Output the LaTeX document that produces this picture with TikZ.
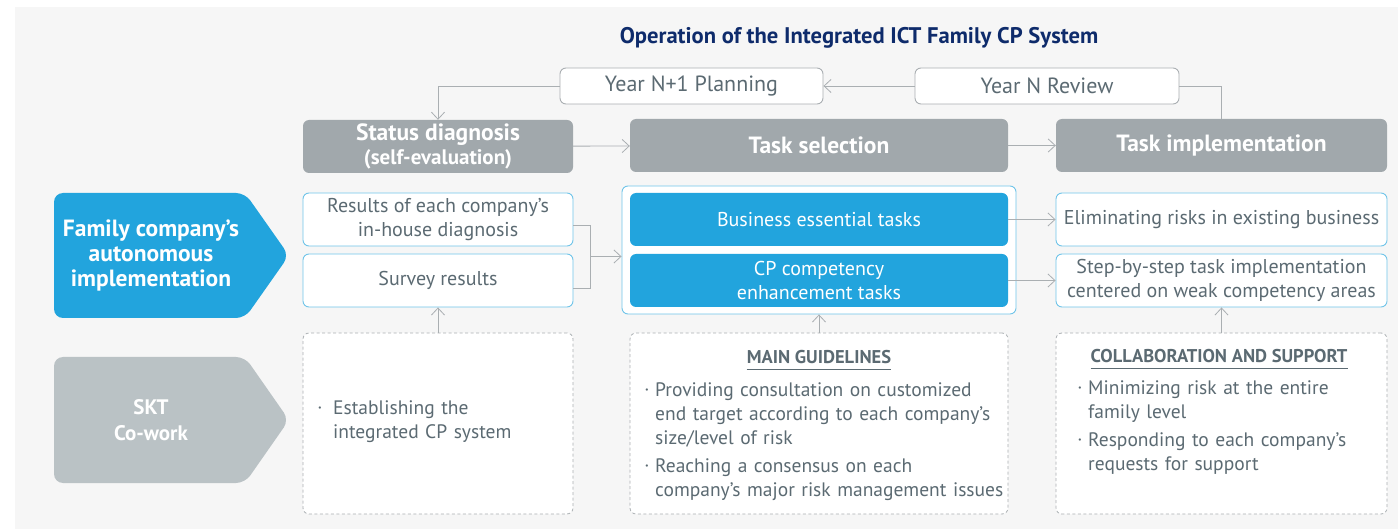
\documentclass[tikz,border=0pt]{standalone}
\usepackage{fontspec}
\setmainfont{PT Sans}
\usetikzlibrary{arrows.meta, positioning, calc}
\definecolor{Fondo}{RGB}{246, 246, 246}
\definecolor{Sky}{RGB}{34, 164, 221}
\definecolor{Steel}{RGB}{161, 168, 172}
\definecolor{Cloud}{RGB}{186, 194, 197}
\definecolor{Slate}{RGB}{91, 106, 114}
\definecolor{Navy}{RGB}{14, 43, 107}
\definecolor{Ash}{RGB}{170, 175, 178}
\newcommand{\dotmark}[1][10pt]{\makebox[#1][l]{\raisebox{0.35ex}{\fontsize{8}{8}\selectfont\textbullet}}}
\newcommand{\hangpad}[1][10pt]{\hspace*{#1}}

\begin{document}
\begin{tikzpicture}[x=1pt, y=-1pt,
        box/.style={
            rectangle,
            rounded corners=6pt,
            draw=Sky!65,
            line width=0.9pt,
            fill=white,
            minimum height=53pt,
            inner sep=0pt,
            align=center,
            text=Slate,
            font=\fontsize{20}{24}\selectfont
        },
        task/.style={box, draw=none, fill=Sky, text=white},
        head/.style={
            rectangle,
            rounded corners=6pt,
            fill=Steel,
            minimum height=53pt,
            inner sep=0pt,
            align=center,
            text=white,
            font=\bfseries\fontsize{23.5}{24}\selectfont
        },
        year/.style={box, draw=Ash, minimum height=36pt, font=\fontsize{22}{24}\selectfont},
        note/.style={
            rectangle,
            rounded corners=6pt,
            draw=Ash,
            dash pattern=on 3pt off 2.5pt,
            line width=0.8pt,
            fill=white,
            minimum height=181pt,
            inner sep=0pt
        },
        bullets/.style={anchor=north west, inner sep=0pt, align=left, text=Slate, font=\fontsize{19.5}{24}\selectfont},
        caps/.style={inner xsep=0pt, inner ysep=6pt, text=Slate, font=\bfseries\fontsize{18.5}{20}\selectfont},
        arrow/.style={-{Straight Barb[length=7pt, width=13pt]}, draw=Ash, line width=0.8pt},
        link/.style={draw=Ash, line width=0.8pt}
    ]
        \useasboundingbox (0,0) rectangle (1398,529);
        \fill[Fondo] (15,7) rectangle (1398,529);

        % Row labels
        \fill[Sky, rounded corners=9pt] (54,255) -- (54,193) -- (245,193) -- (289,255.5) -- (245,318) -- (54,318) -- cycle;
        \fill[Cloud, rounded corners=9pt] (54,420) -- (54,357) -- (245,357) -- (289,420) -- (245,483) -- (54,483) -- cycle;
        \node[align=center, text=white, font=\bfseries\fontsize{23.5}{25}\selectfont] (family) at (151,255) {Family company's\\autonomous\\implementation};
        \node[align=center, text=white, font=\bfseries\fontsize{21}{26}\selectfont] (skt) at (151,420) {SKT\\Co-work};

        % Nodes
        \node[font=\bfseries\fontsize{22.6}{24}\selectfont, text=Navy] (title) at (859,38) {Operation of the Integrated ICT Family CP System};
        \node[year, minimum width=263pt] (plan) at (691.5,86) {Year N+1 Planning};
        \node[year, minimum width=264pt] (review) at (1047,86) {Year N Review};

        \node[head, minimum width=270pt] (diag) at (438,146.5) {Status diagnosis\\{\fontsize{21}{22}\selectfont(self-evaluation)}};
        \node[head, minimum width=378pt] (sel) at (819,145.5) {Task selection};
        \node[head, minimum width=331pt] (impl) at (1221.5,145.5) {Task implementation};

        \node[box, minimum width=270pt] (res) at (438,219.5) {Results of each company's\\in-house diagnosis};
        \node[box, minimum width=270pt] (surv) at (438,280.5) {Survey results};
        \node[box, minimum width=394pt, minimum height=128pt] (wrap) at (819,250) {};
        \node[task, minimum width=378pt] (ess) at (819,219.5) {Business essential tasks};
        \node[task, minimum width=378pt] (comp) at (819,280.5) {CP competency\\enhancement tasks};
        \node[box, minimum width=331pt] (elim) at (1221.5,219.5) {Eliminating risks in existing business};
        \node[box, minimum width=331pt] (step) at (1221.5,280.5) {Step-by-step task implementation\\centered on weak competency areas};

        \node[note, minimum width=270pt] (d1) at (438,423.5) {};
        \node[note, minimum width=378pt] (d2) at (819,423.5) {};
        \node[note, minimum width=331pt] (d3) at (1221.5,423.5) {};

        \node[bullets, text width=250pt] (b1) at (318,400) {\dotmark[15pt]Establishing the\\\hangpad[15pt]integrated CP system};
        \node[caps] (mg) at (819,357) {MAIN GUIDELINES};
        \node[bullets, text width=362pt] (b2) at (645,382) {\dotmark Providing consultation on customized\\\hangpad end target according to each company's\\\hangpad size/level of risk\\[4pt]\dotmark Reaching a consensus on each\\\hangpad company's major risk management issues};
        \node[caps] (cs) at (1219,356) {COLLABORATION AND SUPPORT};
        \node[bullets, text width=305pt] (b3) at (1078,380) {\dotmark Minimizing risk at the entire\\\hangpad family level\\[4pt]\dotmark Responding to each company's\\\hangpad requests for support};
        \draw[Slate, line width=0.9pt] (mg.south west) -- (mg.south east);
        \draw[Slate, line width=0.9pt] (cs.south west) -- (cs.south east);

        % Paths
        \draw[arrow] (review) -- (plan);
        \draw[arrow] (plan.west) -| (diag.north);
        \draw[link] (review.east) -| (impl.north);
        \draw[arrow] (diag) -- (sel);
        \draw[arrow] (sel) -- (impl);
        \draw[link] ([yshift=-5.5pt]res.east) -- ++(17,0) coordinate (jt) |- ([yshift=-7.5pt]surv.east);
        \coordinate (jn) at ($(jt)+(0,31.5)$);
        \draw[arrow] (jn) -- (jn -| wrap.west);
        \draw[arrow] (ess) -- (elim);
        \draw[arrow] (comp) -- (step);
        \draw[arrow] (d1) -- (surv);
        \draw[arrow] (d2) -- (wrap);
        \draw[arrow] (d3) -- (step);
    \end{tikzpicture}
\end{document}
